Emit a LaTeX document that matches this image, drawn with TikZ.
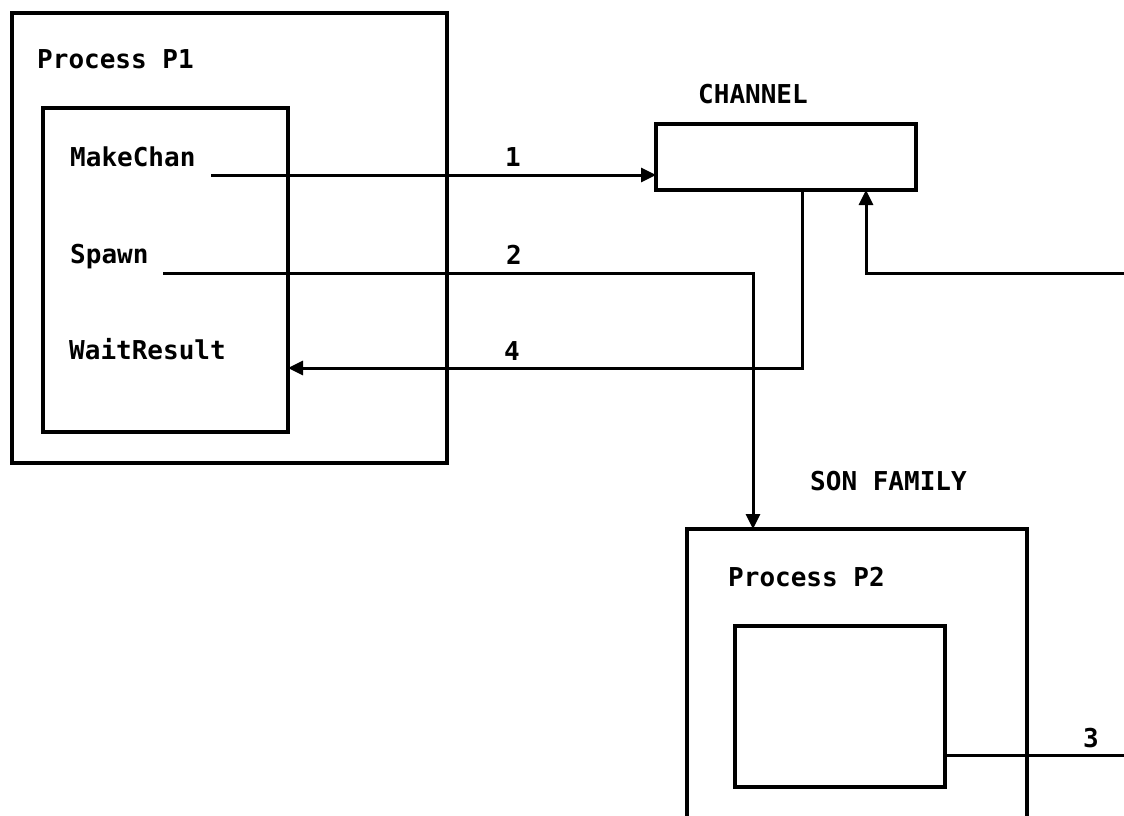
\documentclass[tikz,border=0pt]{standalone}
\usepackage{fontspec}
\newfontfamily\dmono{DejaVu Sans Mono}
\usetikzlibrary{arrows.meta,calc}
\tikzset{
  box/.style={draw=black, line width=3.4pt, rectangle, inner sep=0pt, outer sep=0pt, anchor=north west},
  lbl/.style={anchor=base west, inner sep=0pt, font=\dmono\bfseries\fontsize{26}{30}\selectfont},
  conn/.style={draw=black, line width=3pt},
  arr/.style={conn, -{Triangle[length=15pt,width=14pt]}}
}
\begin{document}
\begin{tikzpicture}[x=1pt,y=-1pt]
\useasboundingbox (0,0) rectangle (1124,816);
\clip (0,0) rectangle (1124,816);
% boxes
\node[box, minimum width=435pt, minimum height=450pt] (p1) at (12,13) {};
\node[box, minimum width=245pt, minimum height=324pt] (p1in) at (43,108) {};
\node[box, minimum width=260pt, minimum height=66pt] (ch) at (656,124) {};
\node[box, minimum width=340pt, minimum height=320pt] (p2) at (687,529) {};
\node[box, minimum width=210pt, minimum height=161pt] (p2in) at (735,626) {};
% texts
\node[lbl] (tp1) at (37,68) {Process P1};
\node[lbl] (tmk) at (70,166) {MakeChan};
\node[lbl] (tsp) at (70,263) {Spawn};
\node[lbl] (twr) at (69,359) {WaitResult};
\node[lbl] (tch) at (698,103) {CHANNEL};
\node[lbl] (tsf) at (810,490) {SON FAMILY};
\node[lbl] (tp2) at (728,586) {Process P2};
\node[lbl] (n1) at (505,166) {1};
\node[lbl] (n2) at (506,264) {2};
\node[lbl] (n4) at (504,360) {4};
\node[lbl] (n3) at (1083,747) {3};
% connector end points
\coordinate (mk) at (211,175);
\coordinate (sp) at (163,273);
\coordinate (p2top) at (753,529);
\coordinate (chout) at (802,190);
\coordinate (wr) at (288,368);
\coordinate (chin) at (866,190);
\coordinate (rtc) at (1130,273);
\coordinate (out3) at (945,755);
\coordinate (rt3) at (1130,755);
% connectors
\draw[arr] (mk) -- (mk -| ch.west);
\draw[arr] (sp) -| (p2top);
\draw[arr] (chout) |- (wr);
\draw[arr] (rtc) -| (chin);
\draw[conn] (out3) -- (rt3);
\end{tikzpicture}
\end{document}
